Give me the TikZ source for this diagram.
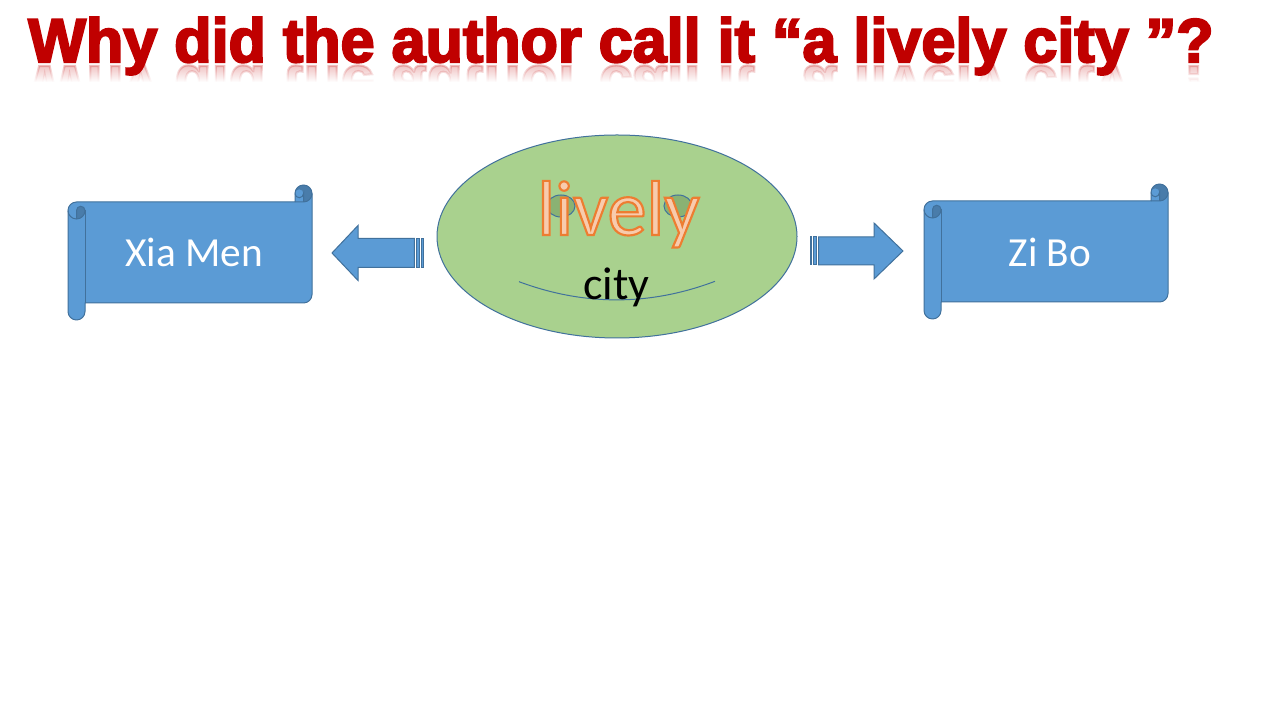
\documentclass[tikz,border=0pt]{standalone}
\usepackage{fontspec}
\usepackage{graphicx}
\setmainfont{Carlito}
\newfontfamily\titlefont[BoldFeatures={FakeBold=3.5}]{Liberation Sans}
\usetikzlibrary{fadings,shapes.geometric}
\definecolor{titlered}{HTML}{C00000}
\definecolor{faceg}{HTML}{A9D18E}
\definecolor{eyeg}{HTML}{8AB273}
\definecolor{lineblue}{HTML}{41719C}
\definecolor{fillblue}{HTML}{5B9BD5}
\definecolor{darkblue}{HTML}{497CAA}
\definecolor{livelyorange}{HTML}{ED7D31}
\definecolor{livelyfill}{HTML}{F8CBAD}
\tikzfading[name=reflfade, top color=transparent!100, bottom color=transparent!0]
\newcommand{\outlinedword}[1]{\color{livelyfill}\special{pdf:literal direct 2 Tr 1.6 w 0.929 0.490 0.192 RG}#1\special{pdf:literal direct 0 Tr}}
\tikzset{
  outl/.style={draw=lineblue, line width=0.75pt},
  blockarrow/.style={fill=fillblue, draw=lineblue, line width=0.75pt, line join=miter},
  scrolltext/.style={text=white, font=\fontsize{31}{36}\selectfont, inner sep=0pt},
  livelytxt/.style={font=\fontsize{58.5}{66}\selectfont, inner sep=0pt, anchor=base},
  scrollpic/.pic={
    \fill[fillblue] (0,109.5) arc[start angle=180,end angle=90,radius=8.5] -- (227,118) -- (227,126.5)
      arc[start angle=180,end angle=0,radius=8.5] -- (244,25.5) arc[start angle=0,end angle=-90,radius=8.5]
      -- (17,17) -- (17,8.5) arc[start angle=0,end angle=-180,radius=8.5] -- cycle;
    \fill[darkblue] (235.5,118) arc[start angle=-90,end angle=180,radius=8.5]
      arc[start angle=180,end angle=0,radius=4.25] -- cycle;
    \fill[darkblue] (8.5,101) arc[start angle=-90,end angle=0,radius=8.5]
      arc[start angle=0,end angle=180,radius=4.25] -- cycle;
    \draw[outl, line join=round] (0,109.5) arc[start angle=180,end angle=90,radius=8.5] -- (227,118) -- (227,126.5)
      arc[start angle=180,end angle=0,radius=8.5] -- (244,25.5) arc[start angle=0,end angle=-90,radius=8.5]
      -- (17,17) -- (17,8.5) arc[start angle=0,end angle=-180,radius=8.5] -- cycle;
    \draw[outl] (227,118) -- (235.5,118) arc[start angle=-90,end angle=0,radius=8.5];
    \draw[outl] (235.5,118) -- (235.5,126.5) arc[start angle=0,end angle=-180,radius=4.25];
    \draw[outl] (8.5,101) -- (8.5,109.5) arc[start angle=180,end angle=0,radius=4.25]
      arc[start angle=0,end angle=-180,radius=8.5];
    \draw[outl] (17,109.5) -- (17,17);
  }
}
\begin{document}
\begin{tikzpicture}[x=0.75pt,y=0.75pt]
\fill[white] (0,0) rectangle (1280,720);
\useasboundingbox (0,0) rectangle (1280,720);

% title reflection
\begin{scope}
  \clip (0,638) rectangle (1280,656);
  \node[anchor=base west, inner sep=0pt, text=titlered, opacity=0.25] (titlerefl) at (28,654)
    {\scalebox{1}[-1]{\resizebox{888.75pt}{33.5pt}{\titlefont\bfseries Why did the author call it “a lively city ”?}}};
\end{scope}
\fill[white, path fading=reflfade] (0,638) rectangle (1280,656);
% title
\node[anchor=base west, inner sep=0pt, text=titlered] (title) at (28,658)
  {\resizebox{888.75pt}{33.5pt}{\titlefont\bfseries Why did the author call it “a lively city ”?}};

% face
\node[ellipse, fill=faceg, outl, minimum width=270pt, minimum height=152.25pt, inner sep=0pt] (face) at (617,483.5) {};
\node[ellipse, fill=eyeg, outl, minimum width=21pt, minimum height=16.5pt, inner sep=0pt] (eyel) at (561,514) {};
\node[ellipse, fill=eyeg, outl, minimum width=21pt, minimum height=16.5pt, inner sep=0pt] (eyer) at (678,514) {};
\coordinate (smilel) at (519,438.3);
\coordinate (smiler) at (715,438.7);
\draw[outl] (smilel) .. controls (584.3,414) and (649.7,414) .. (smiler);
\node[livelytxt] (lively) at (618.5,485) {\outlinedword{lively}};
\node[anchor=base, inner sep=0pt, font=\fontsize{34.5}{40}\selectfont] (city) at (616.5,420) {city};

% left arrow
\draw[blockarrow] (414.4,481.5) -- (358,481.5) -- (358,494.5) -- (332,467) -- (358,439.5) -- (358,452.5) -- (414.4,452.5) -- cycle;
\draw[blockarrow] (416.1,452.5) rectangle (419.6,481.5);
\draw[blockarrow] (421.3,452.5) rectangle (423,481.5);
% right arrow
\draw[blockarrow] (818.6,483) -- (874,483) -- (874,497) -- (903,469) -- (874,441) -- (874,455) -- (818.6,455) -- cycle;
\draw[blockarrow] (813.4,455) rectangle (816.9,483);
\draw[blockarrow] (810,455) rectangle (811.7,483);

% scrolls
\pic at (68,400) {scrollpic};
\pic at (924,401) {scrollpic};
\node[scrolltext] (xiamen) at (194,467.5) {Xia Men};
\node[scrolltext] (zibo) at (1050,468) {Zi Bo};
\end{tikzpicture}
\end{document}
